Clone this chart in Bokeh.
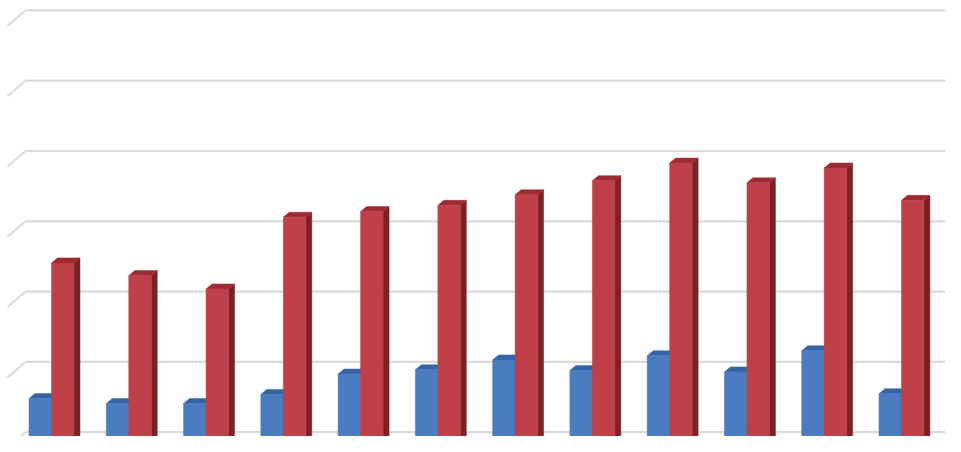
from bokeh.plotting import figure
from bokeh.models import Range1d
from bokeh.embed import file_html
from bokeh.resources import INLINE

# ---- data (gridline step = 10) ----
categories = list(range(1, 13))
series_blue = [6.2, 5.5, 5.5, 6.8, 9.7, 10.3, 11.7, 10.2, 12.3, 10.0, 13.0, 6.9]
series_red = [25.5, 23.7, 21.8, 32.0, 32.8, 33.7, 35.2, 37.2, 39.7, 36.9, 39.0, 34.4]
grid_values = [0, 10, 20, 30, 40, 50, 60]

# ---- styling / geometry ----
BAR_W = 0.291          # width of each bar front, in category units
DDX = 0.0776           # 3D depth offset of bars (x)
DDY = 0.711            # 3D depth offset of bars (y)
WALL_DY = 1.42         # back-wall offset (y) of gridlines
WALL_X0 = -0.3365
WALL_X1 = 11.62
SIDE_X = -0.5694
SIDE_DY = -2.2

BLUE_FRONT, BLUE_TOP, BLUE_SIDE = "#4a7cc0", "#3464a3", "#2b4f85"
RED_FRONT, RED_TOP, RED_SIDE = "#c0404a", "#9e2b33", "#7b2226"
GRID = "#d9d9d9"

p = figure(width=945, height=436, output_backend="svg", toolbar_location=None,
           x_range=Range1d(-0.660, 11.570), y_range=Range1d(0.811, 62.83),
           min_border=0, background_fill_color="white", border_fill_color="white")
p.outline_line_color = None
p.axis.visible = False
p.grid.visible = False

# gridlines on the back wall and the side wall
gy = [g + WALL_DY for g in grid_values]
p.segment(x0=[WALL_X0] * len(gy), y0=gy, x1=[WALL_X1] * len(gy), y1=gy,
          line_color=GRID, line_width=2.2)
p.segment(x0=[WALL_X0] * len(gy), y0=gy, x1=[SIDE_X] * len(gy),
          y1=[g + SIDE_DY for g in gy], line_color=GRID, line_width=2)


def bar3d(x0s, x1s, vals, front, top, side):
    side_xs, side_ys, top_xs, top_ys = [], [], [], []
    for a, b, v in zip(x0s, x1s, vals):
        side_xs.append([b, b + DDX, b + DDX, b])
        side_ys.append([0, DDY, v + DDY, v])
        top_xs.append([a, a + DDX, b + DDX, b])
        top_ys.append([v, v + DDY, v + DDY, v])
    p.patches(side_xs, side_ys, fill_color=side, line_color=side, line_width=0.5)
    p.patches(top_xs, top_ys, fill_color=top, line_color=top, line_width=0.5)
    p.quad(left=x0s, right=x1s, bottom=[0] * len(vals), top=vals,
           fill_color=front, line_color=front, line_width=0.5)


idx = list(range(len(categories)))
bar3d([i - BAR_W for i in idx], [i for i in idx], series_blue, BLUE_FRONT, BLUE_TOP, BLUE_SIDE)
bar3d([i for i in idx], [i + BAR_W for i in idx], series_red, RED_FRONT, RED_TOP, RED_SIDE)

open("out.html", "w").write(file_html(p, INLINE))
